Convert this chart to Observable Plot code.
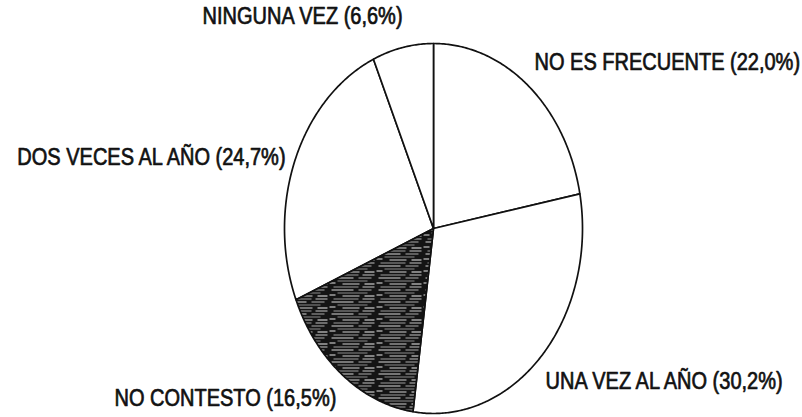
<!DOCTYPE html>
<html>
<head>
<meta charset="utf-8">
<script src="https://cdn.jsdelivr.net/npm/d3@7"></script>
<script src="https://cdn.jsdelivr.net/npm/@observablehq/plot@0.6"></script>
<style>
  html, body { margin: 0; padding: 0; background: #fff; }
  #chart svg { display: block; }
</style>
</head>
<body>
<div id="chart"></div>
<script>
// ---- data ----
const categories = ["NO ES FRECUENTE", "UNA VEZ AL AÑO", "NO CONTESTO", "DOS VECES AL AÑO", "NINGUNA VEZ"];
const values = [22.0, 30.2, 16.5, 24.7, 6.6];
const valueLabels = ["22,0%", "30,2%", "16,5%", "24,7%", "6,6%"];

// ---- layout (label anchor positions in pie units) ----
const labelLayout = [
  {x: 0.678, y: 0.859, anchor: "start"},
  {x: 0.752, y: -0.865, anchor: "start"},
  {x: -2.141, y: -0.957, anchor: "start"},
  {x: -0.993, y: 0.341, anchor: "end"},
  {x: -1.550, y: 1.108, anchor: "start"}
];

const data = categories.map((c, i) => ({category: c, value: values[i], label: `${c} (${valueLabels[i]})`}));
const arcs = d3.pie().sort(null).value(d => d.value)(data);

// slice outlines in pie units (angle clockwise from top)
const slicePts = [];
arcs.forEach((a) => {
  const cat = a.data.category;
  slicePts.push({category: cat, x: 0, y: 0});
  const n = Math.max(2, Math.ceil((a.endAngle - a.startAngle) / 0.01));
  for (let k = 0; k <= n; k++) {
    const t = a.startAngle + (a.endAngle - a.startAngle) * k / n;
    slicePts.push({category: cat, x: Math.sin(t), y: Math.cos(t)});
  }
  slicePts.push({category: cat, x: 0, y: 0});
});

const labels = data.map((d, i) => ({...d, ...labelLayout[i]}));
const hatched = "NO CONTESTO";

const cx = 433, cy = 228, rx = 149, ry = 185;
const textStyle = {
  x: "x", y: "y", text: "label", lineAnchor: "bottom",
  fontSize: 20, fill: "#111", stroke: "#111", strokeWidth: 0.6,
  fontFamily: "'Liberation Sans', Arial, sans-serif"
};

const chart = Plot.plot({
  width: 802,
  height: 417,
  margin: 0,
  x: {domain: [-1, 1], range: [cx - rx, cx + rx], axis: null},
  y: {domain: [-1, 1], range: [cy + ry, cy - ry], axis: null},
  style: {background: "#fff", overflow: "visible"},
  marks: [
    Plot.line(slicePts.filter(d => d.category !== hatched), {
      x: "x", y: "y", z: "category", fill: "white", stroke: "#111", strokeWidth: 1.7, curve: "linear", strokeLinejoin: "round"
    }),
    Plot.line(slicePts.filter(d => d.category === hatched), {
      x: "x", y: "y", z: "category", fill: "url(#hatch)", stroke: "#111", strokeWidth: 1.7, curve: "linear", strokeLinejoin: "round"
    }),
    Plot.text(labels.filter(d => d.anchor === "start"), {...textStyle, textAnchor: "start", className: "lbl"}),
    Plot.text(labels.filter(d => d.anchor === "end"), {...textStyle, textAnchor: "end", className: "lbl"})
  ]
});

// hatch pattern definition for the shaded slice (horizontal scan-like streaks)
const ns = "http://www.w3.org/2000/svg";
const defs = document.createElementNS(ns, "defs");
defs.innerHTML = `<pattern id="hatch" patternUnits="userSpaceOnUse" width="47" height="12">
  <rect width="47" height="12" fill="#141414"/>
  <rect x="2" y="1" width="22" height="1" fill="#d8d8d8"/>
  <rect x="29" y="1" width="13" height="1" fill="#aaaaaa"/>
  <rect x="8" y="4" width="30" height="1" fill="#8a8a8a"/>
  <rect x="0" y="6" width="6" height="1" fill="#e6e6e6"/>
  <rect x="13" y="7" width="17" height="1" fill="#cfcfcf"/>
  <rect x="35" y="7" width="10" height="1" fill="#efefef"/>
  <rect x="4" y="10" width="25" height="1" fill="#9c9c9c"/>
  <rect x="33" y="10" width="12" height="1" fill="#c4c4c4"/>
</pattern>`;
chart.insertBefore(defs, chart.firstChild);

// slightly stretch the label glyphs vertically (scanned original looks condensed)
chart.querySelectorAll(".lbl text").forEach(t => {
  const tr = t.getAttribute("transform");
  if (tr) t.setAttribute("transform", tr + " scale(1,1.15)");
});

document.getElementById("chart").appendChild(chart);
</script>
</body>
</html>
